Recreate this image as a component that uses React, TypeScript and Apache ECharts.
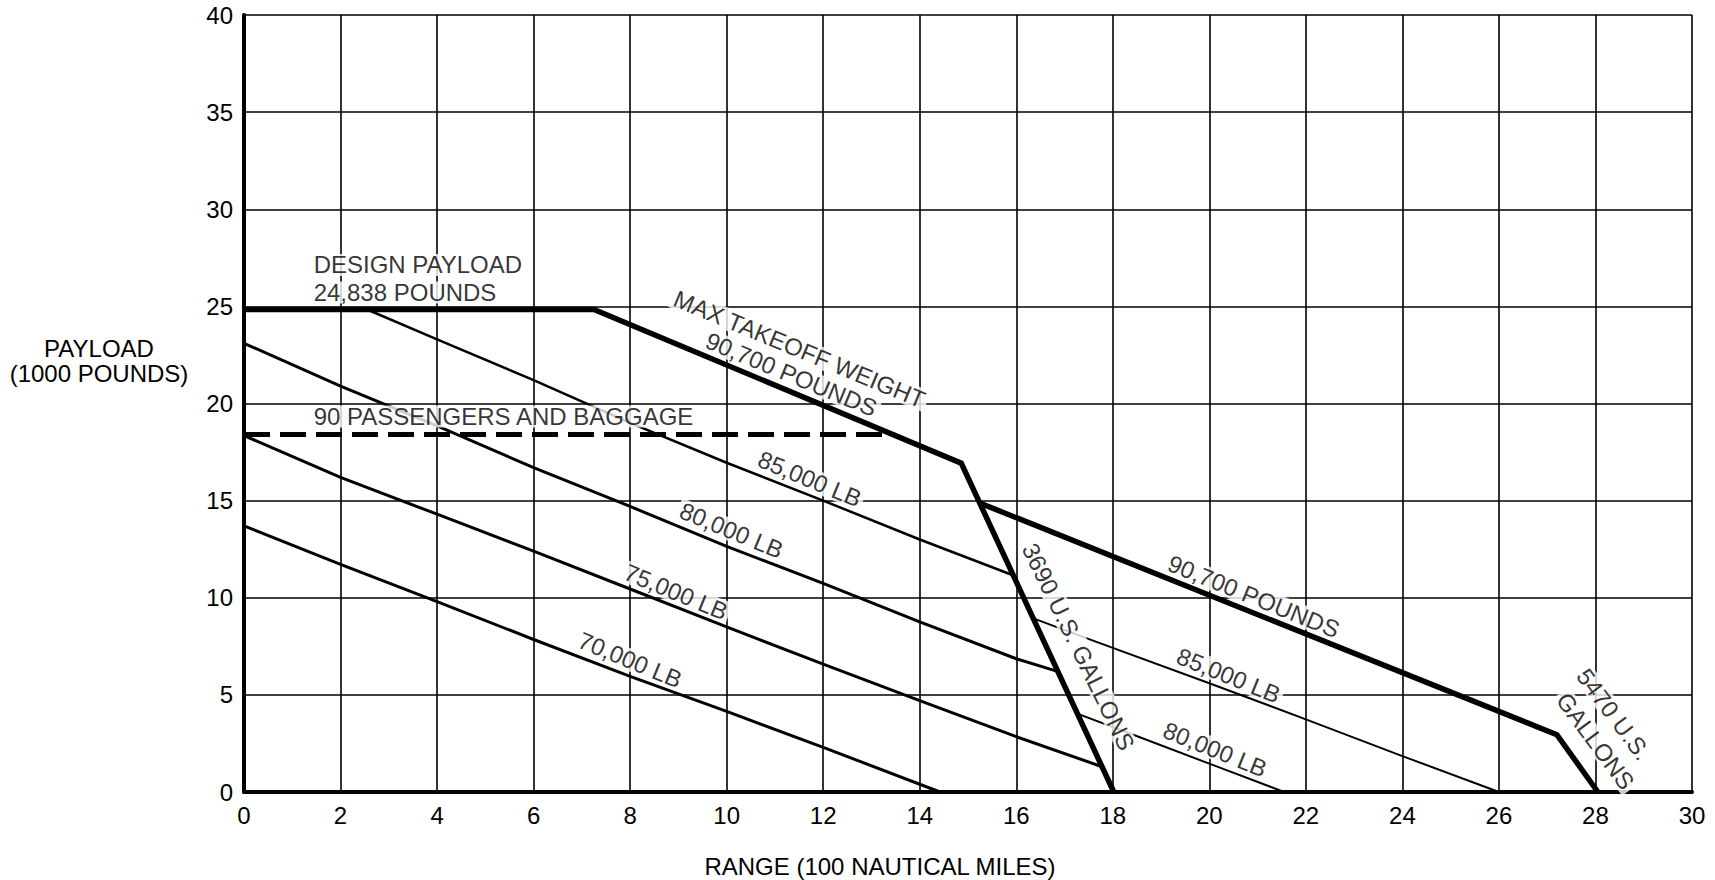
import React, { useEffect, useRef } from "react";
import * as echarts from "echarts";

type Pt = [number, number];

// Axes (range in 100 nmi, payload in 1000 lb)
const X_MIN = 0;
const X_MAX = 30;
const X_STEP = 2;
const Y_MIN = 0;
const Y_MAX = 40;
const Y_STEP = 5;

// Design payload + max takeoff weight (90,700 lb) + 3690 US gal fuel limit
const designMaxTakeoff: Pt[] = [
  [0, 24.84],
  [7.25, 24.84],
  [14.86, 16.93],
  [18.02, 0],
];
// 90,700 lb line beyond 3690 gal, down to 5470 US gal limit
const maxTakeoffExtended: Pt[] = [
  [15.27, 14.85],
  [27.2, 2.95],
  [28.05, 0],
];
// 90 passengers and baggage
const passengers90: Pt[] = [
  [0, 18.4],
  [13.48, 18.4],
];
// Takeoff-weight lines (left of 3690 gal)
const tow85Left: Pt[] = [
  [2.55, 24.84],
  [4, 23.3],
  [6, 21.2],
  [8, 19.0],
  [10, 16.95],
  [12, 15.0],
  [14, 13.0],
  [15.92, 11.17],
];
const tow80Left: Pt[] = [
  [0, 23.1],
  [2, 20.9],
  [4, 18.85],
  [6, 16.7],
  [8, 14.7],
  [10, 12.64],
  [12, 10.74],
  [14, 8.76],
  [16, 6.86],
  [16.87, 6.2],
];
const tow75: Pt[] = [
  [0, 18.35],
  [2, 16.2],
  [4, 14.3],
  [6, 12.4],
  [8, 10.45],
  [10, 8.5],
  [12, 6.58],
  [14, 4.7],
  [16, 2.85],
  [17.78, 1.3],
];
const tow70: Pt[] = [
  [0, 13.7],
  [2, 11.72],
  [4, 9.8],
  [6, 7.85],
  [8, 5.95],
  [10, 4.15],
  [12, 2.3],
  [14.42, 0],
];
// Takeoff-weight lines (right of 3690 gal)
const tow85Right: Pt[] = [
  [16.34, 8.95],
  [17.52, 7.86],
  [20, 5.6],
  [22, 3.74],
  [24, 1.85],
  [26, 0],
];
const tow80Right: Pt[] = [
  [17.25, 4.05],
  [18.52, 2.86],
  [20, 1.46],
  [21.55, 0],
];

// In-plot annotations (data coordinates, rotation in degrees)
const annotationTexts = [
  "DESIGN PAYLOAD",
  "24,838 POUNDS",
  "90 PASSENGERS AND BAGGAGE",
  "MAX TAKEOFF WEIGHT",
  "90,700 POUNDS",
  "85,000 LB",
  "80,000 LB",
  "75,000 LB",
  "70,000 LB",
  "3690 U.S. GALLONS",
  "90,700 POUNDS",
  "85,000 LB",
  "80,000 LB",
  "5470 U.S.",
  "GALLONS",
];
const annotationX = [1.37, 1.37, 1.37, 11.51, 11.34, 11.72, 10.1, 8.95, 8.0, 17.29, 20.92, 20.4, 20.12, 28.38, 28.0];
const annotationY = [27.13, 25.72, 19.33, 22.8, 21.5, 16.12, 13.47, 10.3, 6.8, 7.48, 10.07, 6.0, 2.2, 4.0, 2.62];
const annotationRotate = [0, 0, 0, -22.5, -22.5, -22.5, -22.5, -22.5, -22.5, -64, -22, -22, -22, -53.5, -53.5];
const annotationLeftAligned = [true, true, true, false, false, false, false, false, false, false, false, false, false, false, false];

const yAxisTitle = ["PAYLOAD", "(1000 POUNDS)"];
const xAxisTitle = "RANGE (100 NAUTICAL MILES)";

const FONT = '"Liberation Sans", Arial, Helvetica, sans-serif';

export default function App() {
  const ref = useRef<HTMLDivElement>(null);

  useEffect(() => {
    if (!ref.current) return;
    const chart = echarts.init(ref.current, null, { renderer: "svg" });

    const line = (data: Pt[], width: number, type: any = "solid", z = 3) => ({
      type: "line",
      data,
      symbol: "none",
      showSymbol: false,
      silent: true,
      z,
      clip: true,
      lineStyle: { color: "#000", width, type, cap: "butt", join: "miter" },
      emphasis: { disabled: true },
    });

    const textStyle = (text: string, x: number, y: number) => ({
      type: "text",
      x,
      y,
      silent: true,
      style: {
        text,
        fill: "#000",
        font: `24px ${FONT}`,
        textAlign: "center",
        textVerticalAlign: "middle",
        align: "center",
        verticalAlign: "middle",
      },
    });

    chart.setOption({
      animation: false,
      backgroundColor: "#fff",
      grid: {
        left: 244,
        right: 23,
        top: 15,
        bottom: 88,
        containLabel: false,
        outerBoundsMode: "none",
      },
      xAxis: {
        type: "value",
        min: X_MIN,
        max: X_MAX,
        interval: X_STEP,
        axisLine: { show: true, onZero: false, lineStyle: { color: "#000", width: 4 } },
        axisTick: { show: false },
        axisLabel: { color: "#000", fontSize: 24, fontFamily: FONT, margin: 11 },
        splitLine: { show: true, lineStyle: { color: "#000", width: 1.6 } },
      },
      yAxis: {
        type: "value",
        min: Y_MIN,
        max: Y_MAX,
        interval: Y_STEP,
        axisLine: { show: true, onZero: false, lineStyle: { color: "#000", width: 4 } },
        axisTick: { show: false },
        axisLabel: { color: "#000", fontSize: 24, fontFamily: FONT, margin: 11 },
        splitLine: { show: true, lineStyle: { color: "#000", width: 1.6 } },
      },
      series: [
        line(tow70, 3),
        line(tow75, 3),
        line(tow80Left, 3),
        line(tow85Left, 2.5),
        line(tow85Right, 2),
        line(tow80Right, 2),
        line(passengers90, 5, [26, 10], 4),
        line(designMaxTakeoff, 5.5, "solid", 5),
        line(maxTakeoffExtended, 5.5, "solid", 5),
        {
          type: "scatter",
          z: 10,
          silent: true,
          symbolSize: 1,
          itemStyle: { color: "transparent" },
          label: {
            show: true,
            formatter: "{b}",
            color: "#000",
            fontSize: 24,
            fontFamily: FONT,
            backgroundColor: "#fff",
            padding: [0, 3],
            lineHeight: 22,
            textBorderWidth: 0,
            textBorderColor: "transparent",
            textShadowBlur: 0,
          },
          data: annotationTexts.map((t, i) => ({
            name: t,
            value: [annotationX[i], annotationY[i]],
            label: {
              rotate: annotationRotate[i],
              position: annotationLeftAligned[i] ? "right" : "inside",
              distance: 0,
              color: "#000",
              textBorderWidth: 0,
            },
          })),
        },
      ],
      graphic: [
        textStyle(yAxisTitle[0], 99, 348),
        textStyle(yAxisTitle[1], 99, 373),
        textStyle(xAxisTitle, 880, 866),
      ],
    });

    return () => chart.dispose();
  }, []);

  return (
    <div
      ref={ref}
      style={{ position: "fixed", left: 0, top: 0, width: 1715, height: 880, background: "#fff" }}
    />
  );
}
